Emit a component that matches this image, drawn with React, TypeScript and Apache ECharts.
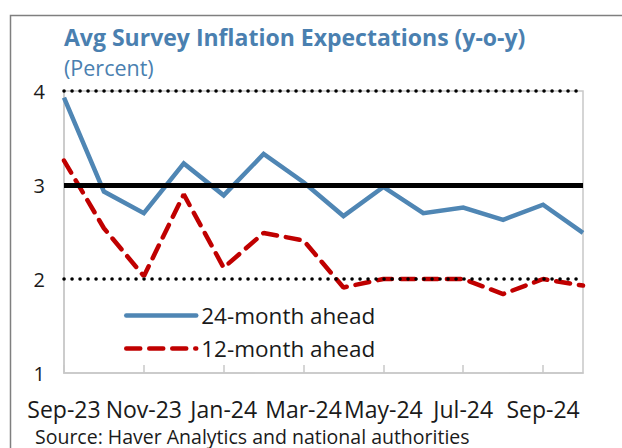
import React, { useEffect, useRef } from "react";
import * as echarts from "echarts";

const months = ["Sep-23", "Oct-23", "Nov-23", "Dec-23", "Jan-24", "Feb-24", "Mar-24", "Apr-24", "May-24", "Jun-24", "Jul-24", "Aug-24", "Sep-24", "Oct-24"];
const ahead24 = [3.93, 2.93, 2.7, 3.23, 2.89, 3.33, 3.03, 2.67, 2.98, 2.7, 2.76, 2.63, 2.79, 2.49];
const ahead12 = [3.26, 2.54, 2.03, 2.9, 2.12, 2.49, 2.41, 1.91, 2.0, 2.0, 2.0, 1.84, 2.0, 1.93];
const dottedLevels = [2, 4];
const solidLevel = 3;
const yTicks = [1, 2, 3, 4];

const FONT = "Open Sans";
const BLUE = "#4f86b4";
const RED = "#c00000";

export default function App() {
  const ref = useRef<HTMLDivElement>(null);
  useEffect(() => {
    if (!ref.current) return;
    const chart = echarts.init(ref.current, null, { renderer: "svg" });
    chart.setOption({
      animation: false,
      textStyle: { fontFamily: FONT },
      graphic: [
        {
          type: "rect",
          shape: { x: 10.5, y: 15.5, width: 700, height: 500 },
          style: { fill: "none", stroke: "#7f7f7f", lineWidth: 1.5 },
          silent: true,
        },
        {
          type: "text",
          left: 64,
          top: 25,
          style: { text: "Avg Survey Inflation Expectations (y-o-y)", fill: "#4a80b0", font: `bold 23px "${FONT}"` },
        },
        {
          type: "text",
          left: 64,
          top: 56,
          style: { text: "(Percent)", fill: "#4a80b0", font: `21.5px "${FONT}"` },
        },
        {
          type: "text",
          left: 35,
          top: 426,
          style: { text: "Source: Haver Analytics and national authorities", fill: "#1a1a1a", font: `19.5px "${FONT}"` },
        },
      ],
      grid: { left: 64, top: 91, width: 519, height: 282, show: true, borderColor: "#c8c8c8", borderWidth: 1.5 },
      legend: {
        data: ["24-month ahead", "12-month ahead"],
        orient: "vertical",
        left: 119,
        top: 299,
        itemWidth: 70,
        itemHeight: 14,
        itemGap: 10,
        itemStyle: { opacity: 0 },
        lineStyle: { width: 4.5, cap: "round" },
        textStyle: { fontSize: 22.5, color: "#1a1a1a", fontFamily: FONT },
      },
      xAxis: {
        type: "category",
        data: months,
        boundaryGap: false,
        axisLine: { show: true, lineStyle: { color: "#c8c8c8", width: 1.5 } },
        axisTick: { show: true, inside: true, length: 8, interval: 1, lineStyle: { color: "#c8c8c8", width: 1.5 } },
        axisLabel: { interval: 1, fontSize: 23, color: "#1a1a1a", margin: 24, fontFamily: FONT },
        splitLine: { show: false },
      },
      yAxis: {
        type: "value",
        min: yTicks[0],
        max: yTicks[yTicks.length - 1],
        interval: 1,
        axisLine: { show: true, lineStyle: { color: "#c8c8c8", width: 1.5 } },
        axisTick: { show: false },
        axisLabel: { fontSize: 20, color: "#1a1a1a", margin: 19, fontFamily: FONT },
        splitLine: { show: false },
      },
      series: [
        {
          name: "24-month ahead",
          type: "line",
          data: ahead24,
          symbol: "none",
          z: 3,
          lineStyle: { color: BLUE, width: 4.5, join: "miter" },
          itemStyle: { color: BLUE },
        },
        {
          name: "12-month ahead",
          type: "line",
          data: ahead12,
          symbol: "none",
          z: 2,
          lineStyle: { color: RED, width: 4.5, type: [14, 9], cap: "round" },
          itemStyle: { color: RED },
        },
        {
          name: "refs",
          type: "line",
          data: months.map(() => null),
          symbol: "none",
          z: 5,
          silent: true,
          markLine: {
            silent: true,
            symbol: "none",
            label: { show: false },
            data: [
              ...dottedLevels.map((v) => ({
                yAxis: v,
                lineStyle: { color: "#000", width: 3.5, type: [0.1, 7.9], cap: "round" },
              })),
              { yAxis: solidLevel, lineStyle: { color: "#000", width: 5, type: "solid" } },
            ],
          },
        },
      ],
    });
    return () => chart.dispose();
  }, []);
  return <div ref={ref} style={{ position: "absolute", left: 0, top: 0, width: 622, height: 448 }} />;
}
